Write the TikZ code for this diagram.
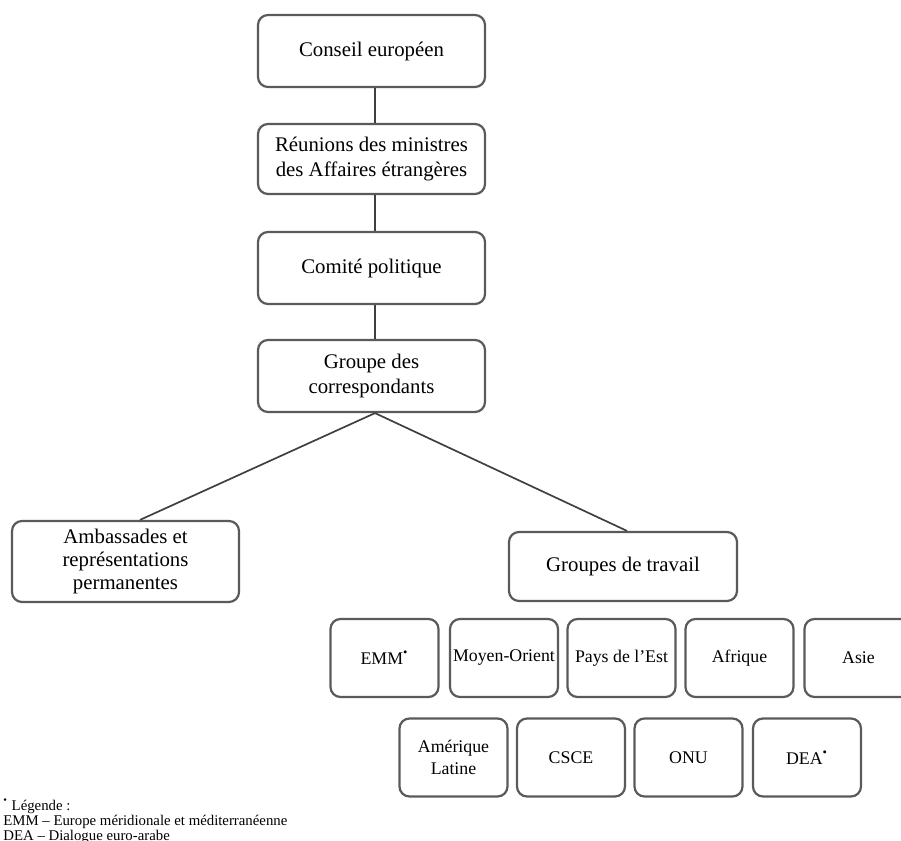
\documentclass[tikz,border=0pt]{standalone}
\usepackage{fontspec}
\setmainfont{Liberation Serif}
\definecolor{boxgray}{HTML}{5A5A5A}
\definecolor{linegray}{HTML}{404040}
\begin{document}
\begin{tikzpicture}[x=0.5pt,y=-0.5pt,
  bigbox/.style={draw=boxgray, line width=1.1pt, rounded corners=5pt, align=center,
    inner sep=1pt, minimum width=113.5pt, minimum height=36pt,
    font=\fontsize{10.4}{12.5}\selectfont},
  smallbox/.style={draw=boxgray, line width=1.1pt, rounded corners=5pt, align=center,
    inner sep=1pt, minimum width=54pt, minimum height=39pt,
    font=\fontsize{8.9}{11}\selectfont},
  conn/.style={draw=linegray, line width=0.85pt},
  legend/.style={anchor=base west, inner sep=0pt, font=\fontsize{7.4}{7.5}\selectfont}]
\useasboundingbox (0,0) rectangle (901,841);

\node[bigbox] (conseil) at (371.5,51) {Conseil européen};
\node[bigbox, minimum height=35pt] (reunions) at (371.5,159) {Réunions des ministres\\des Affaires étrangères};
\node[bigbox] (comite) at (371.5,268) {Comité politique};
\node[bigbox] (groupe) at (371.5,376) {Groupe des\\correspondants};

\node[bigbox, minimum height=40.5pt, font=\fontsize{10.4}{11.7}\selectfont] (amb) at (125.5,561.5) {Ambassades et\\représentations\\permanentes};
\node[bigbox, minimum width=114pt, minimum height=34.5pt] (gdt) at (623,566.5) {Groupes de travail};

\node[smallbox] (emm) at (384.5,658) {EMM\textsuperscript{•}};
\node[smallbox] (mo) at (504,658) {Moyen-Orient};
\node[smallbox] (est) at (621.5,658) {Pays de l’Est};
\node[smallbox] (afr) at (739.5,658) {Afrique};
\node[smallbox] (asie) at (858.5,658) {Asie};

\node[smallbox] (aml) at (453.5,757.5) {Amérique\\Latine};
\node[smallbox] (csce) at (571,757.5) {CSCE};
\node[smallbox] (onu) at (688.5,757.5) {ONU};
\node[smallbox] (dea) at (807,757.5) {DEA\textsuperscript{•}};

\draw[conn] ([xshift=1.75pt]conseil.south) -- ([xshift=1.75pt]reunions.north);
\draw[conn] ([xshift=1.75pt]reunions.south) -- ([xshift=1.75pt]comite.north);
\draw[conn] ([xshift=1.75pt]comite.south) -- ([xshift=1.75pt]groupe.north);
\draw[conn] ([xshift=1.75pt]groupe.south) -- ([xshift=7.25pt]amb.north);
\draw[conn] ([xshift=1.75pt]groupe.south) -- ([xshift=2pt]gdt.north);

\node[legend] (l1) at (3,810) {\textsuperscript{•} Légende :};
\node[legend] (l2) at (3,825) {EMM – Europe méridionale et méditerranéenne};
\node[legend] (l3) at (3,840) {DEA – Dialogue euro-arabe};
\end{tikzpicture}
\end{document}
